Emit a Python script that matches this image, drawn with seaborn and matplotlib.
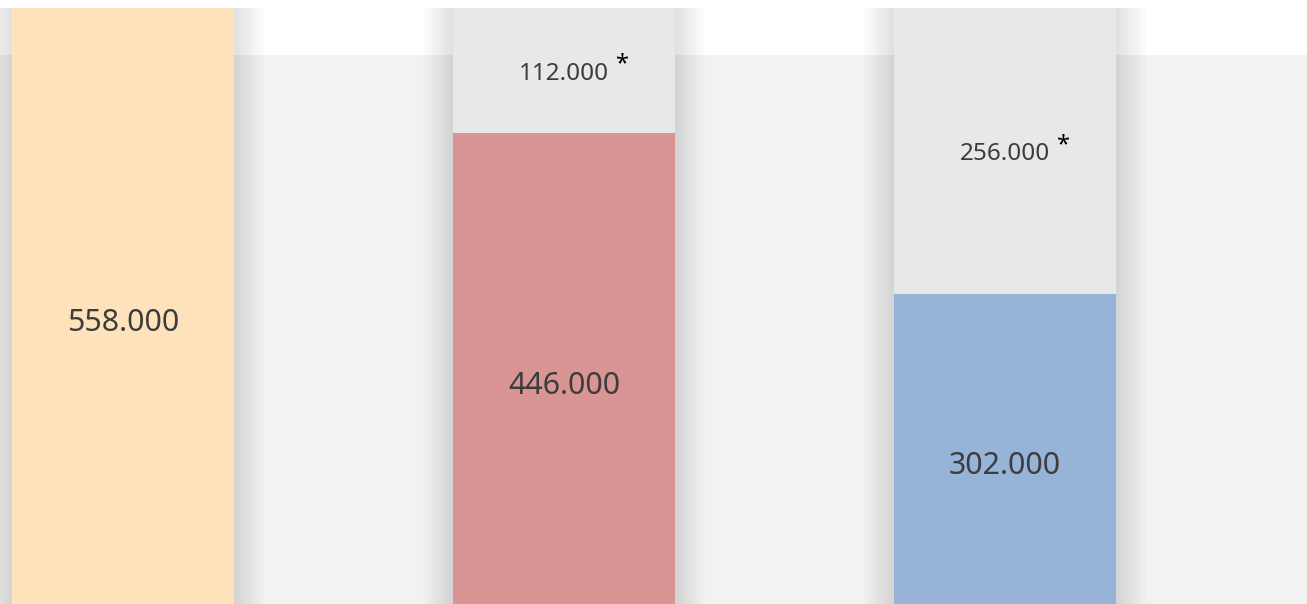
import numpy as np
import pandas as pd
import matplotlib
matplotlib.use("Agg")
import matplotlib.pyplot as plt
import seaborn as sns

# données
categories = ["A", "B", "C"]
base_values = [558, 446, 302]
extra_values = [0, 112, 256]
bar_colors = ["#fde2bb", "#d99494", "#97b3d7"]

totals = [b + e for b, e in zip(base_values, extra_values)]
df = pd.DataFrame({"cat": categories, "base": base_values, "total": totals})

sns.set_theme(style="white")
plt.rcParams["font.family"] = ["Noto Sans", "DejaVu Sans"]

fig = plt.figure(figsize=(13.07, 6.04), dpi=100)
ax = fig.add_axes([0, 0, 1, 1])
ax.set_facecolor("white")

ylo, yhi = 24.2, 565.4
ax.axhspan(ylo, 516, color="#f2f2f2", zorder=0, lw=0)

width = 0.503
pos = np.arange(len(categories))

# ombre douce autour des barres
for k in range(1, 11):
    ax.bar(pos, totals, width=width + k * 2 * 3 / 441,
           color="black", alpha=0.01, lw=0, zorder=1)

sns.barplot(data=df, x="cat", y="total", color="#e8e8e8", width=width,
            saturation=1, linewidth=0, ax=ax, zorder=2)
sns.barplot(data=df, x="cat", y="base", hue="cat", palette=bar_colors,
            width=width, saturation=1, linewidth=0, legend=False, ax=ax, zorder=3)

for i, (b, e) in enumerate(zip(base_values, extra_values)):
    ax.text(i, b / 2, f"{b:.3f}", ha="center", va="center_baseline",
            fontsize=21.8, color="#3c3c3c", zorder=5)
    if e > 0:
        ax.text(i, b + e / 2, f"{e:.3f}", ha="center", va="center_baseline",
                fontsize=17.5, color="#3c3c3c", zorder=5)
        ax.annotate("*", (i, b + e / 2), xytext=(58 * 0.72, 6 * 0.72),
                    textcoords="offset points", ha="center", va="center",
                    fontsize=17, color="black", zorder=5)

ax.set_xlim(-0.279, 2.685)
ax.set_ylim(ylo, yhi)
ax.set_xlabel("")
ax.set_ylabel("")
ax.set_xticks([])
ax.set_yticks([])
for s in ax.spines.values():
    s.set_visible(False)

fig.savefig("out.png", dpi=100)
